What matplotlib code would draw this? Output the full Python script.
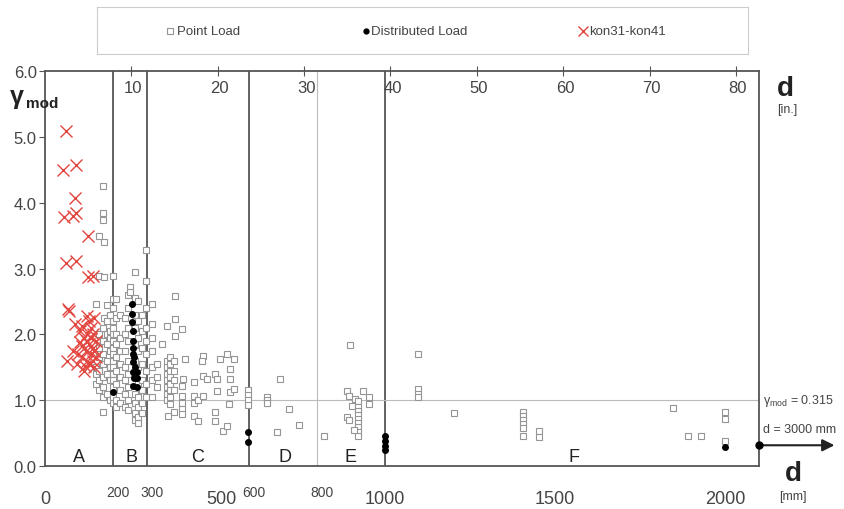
import numpy as np
import matplotlib.pyplot as plt

plt.rcParams['font.family'] = ['Liberation Sans', 'DejaVu Sans']
plt.rcParams['mathtext.fontset'] = 'custom'
plt.rcParams['mathtext.rm'] = 'Liberation Sans'
plt.rcParams['mathtext.it'] = 'Liberation Sans'

# Точечная нагрузка (серые квадраты): d [mm], gamma_mod
point_a_x = [150, 150, 150, 150,
             160, 160, 160, 160, 160, 160, 160, 160,
             171, 171, 171, 171, 171, 171, 171, 171, 171, 171, 171,
             174, 174, 174,
             183, 183, 183, 183, 183, 183, 183,
             190, 190, 190, 190, 190, 190, 190,
             200, 200, 200, 200, 200, 200, 200, 200, 200, 200, 200, 200, 200, 200, 200, 200,
             210, 210, 210, 210, 210, 210, 210, 210, 210,
             220, 220, 220, 220, 220, 220, 220,
             235, 235, 235, 235, 235, 235, 235,
             245, 245, 245, 245, 245, 245, 245, 245, 245,
             250, 250,
             265, 265, 265, 265, 265, 265, 265, 265, 265, 265, 265,
             275, 275, 275, 275, 275, 275, 275, 275, 275, 275,
             285, 285, 285, 285, 285, 285, 285, 285,
             297, 297, 297, 297, 297, 297, 297, 297, 297,
             315, 315, 315, 315, 315, 315, 315,
             330, 330, 330]
point_a_y = [2.46, 1.50, 1.40, 1.25,
             3.50, 2.89, 2.00, 1.80, 1.65, 1.45, 1.30, 1.15,
             4.26, 3.84, 3.73, 2.10, 1.90, 1.70, 1.55, 1.35, 1.20, 1.05, 0.82,
             3.40, 2.87, 2.25,
             2.45, 2.20, 2.00, 1.85, 1.60, 1.40, 1.10,
             2.30, 2.05, 1.95, 1.75, 1.50, 1.30, 1.00,
             2.89, 2.54, 2.40, 2.20, 2.10, 2.00, 1.90, 1.80, 1.70, 1.60, 1.50, 1.40, 1.30, 1.20, 1.05, 0.95,
             2.54, 2.25, 2.00, 1.85, 1.65, 1.45, 1.25, 1.00, 0.90,
             2.30, 1.95, 1.75, 1.55, 1.35, 1.15, 0.95,
             2.25, 2.00, 1.75, 1.50, 1.30, 1.10, 0.90,
             2.60, 2.40, 2.10, 1.90, 1.60, 1.40, 1.20, 1.00, 0.85,
             2.72, 2.64,
             2.95, 2.55, 2.30, 2.10, 1.85, 1.60, 1.35, 1.10, 0.95, 0.80, 0.70,
             2.50, 2.20, 1.95, 1.75, 1.50, 1.25, 1.05, 0.90, 0.75, 0.65,
             2.30, 2.05, 1.80, 1.55, 1.30, 1.15, 0.95, 0.80,
             3.28, 2.81, 2.40, 2.10, 1.90, 1.70, 1.45, 1.25, 1.05,
             2.46, 2.15, 1.95, 1.75, 1.50, 1.30, 1.05,
             1.55, 1.35, 1.20]

point_c_x = [344, 359, 359, 359, 359, 359, 359, 359, 359,
             368, 368, 368, 368, 368, 368, 368, 368,
             378, 378, 378, 378, 378, 383, 383, 383,
             403, 403, 403, 403, 403, 403, 363, 412, 407,
             437, 437, 437, 437, 451, 451, 466, 466, 466, 462, 477,
             500, 500, 500, 506, 506, 516, 525, 535, 535, 540,
             545, 545, 545, 555, 555,
             598, 598, 598, 598]
point_c_y = [1.85, 2.13, 1.60, 1.50, 1.40, 1.30, 1.20, 1.10, 1.00,
             1.65, 1.55, 1.45, 1.35, 1.25, 1.15, 1.05, 0.94,
             1.60, 1.45, 1.30, 1.15, 0.82, 2.58, 2.23, 1.98,
             2.08, 1.22, 1.06, 0.95, 0.87, 0.79, 0.76, 1.63, 1.32,
             1.27, 1.06, 0.95, 0.76, 1.00, 0.68, 1.67, 1.37, 1.06, 1.60, 1.32,
             1.40, 0.82, 0.68, 1.32, 1.14, 1.63, 0.53, 1.70, 0.61, 0.94,
             1.47, 1.32, 1.12, 1.63, 1.17,
             1.15, 1.08, 1.00, 0.93]

point_def_x = [654, 654, 654, 692, 719, 748, 683, 822,
               896, 889, 934, 893, 913, 952, 952, 904,
               920, 920, 920, 920, 920, 920, 920, 920, 920, 889, 893, 910,
               1096, 1096, 1096, 1096, 1202,
               1405, 1405, 1405, 1405, 1405, 1405, 1452, 1452,
               1848, 1891, 1930, 2000, 2000, 2000]
point_def_y = [1.05, 1.00, 0.95, 1.32, 0.87, 0.62, 0.52, 0.46,
               1.84, 1.14, 1.14, 1.06, 1.02, 1.05, 0.94, 0.91,
               0.98, 0.90, 0.84, 0.78, 0.72, 0.66, 0.60, 0.52, 0.45, 0.74, 0.70, 0.55,
               1.70, 1.17, 1.10, 1.05, 0.81,
               0.82, 0.76, 0.70, 0.64, 0.58, 0.45, 0.53, 0.44,
               0.88, 0.46, 0.46, 0.82, 0.71, 0.38]

# Распределенная нагрузка (черные точки)
dist_x = [255, 255, 255, 258, 258, 258, 260, 262, 258, 265, 258, 262, 258,
          272, 272, 272, 200, 598, 598, 1000, 1000, 1000, 1000, 2000]
dist_y = [2.46, 2.31, 2.18, 2.05, 1.90, 1.80, 1.70, 1.66, 1.58, 1.50, 1.43, 1.33, 1.22,
          1.20, 1.43, 1.33, 1.12, 0.52, 0.36, 0.46, 0.38, 0.30, 0.24, 0.29]

# kon31-kon41 (красные крестики)
kon_x = [62, 53, 91, 89, 57, 83, 91, 127, 62, 91, 127, 141,
         68, 70, 88, 109, 124, 103, 124, 65, 83, 109, 118, 103,
         130, 135, 140, 115, 125, 130, 140, 120, 135, 145, 110,
         125, 140, 130, 145, 115, 98, 95, 150, 150, 135, 145]
kon_y = [5.09, 4.50, 4.57, 4.07, 3.78, 3.80, 3.85, 3.50, 3.09, 3.12, 2.87, 2.89,
         2.38, 2.35, 2.16, 2.13, 2.28, 2.05, 2.00, 1.60, 1.75, 1.83, 1.52, 1.88,
         2.20, 2.10, 2.00, 1.95, 1.90, 1.85, 1.80, 1.75, 1.70, 1.75, 1.65,
         1.60, 1.60, 1.55, 1.50, 1.45, 1.70, 1.55, 1.90, 1.65, 1.95, 2.25]

# Границы зон и подписи
zone_bounds = [200, 300, 600, 1000]
zone_names = ['A', 'B', 'C', 'D', 'E', 'F']
zone_pos = [100, 255, 450, 705, 900, 1555]
big_ticks = [0, 500, 1000, 1500, 2000]
small_ticks = [200, 300, 600, 800]
inch_ticks = [10, 20, 30, 40, 50, 60, 70, 80]
gamma_end = 0.315
d_end = 2100

grey = '#555555'
txt = '#444444'

fig = plt.figure(figsize=(8.44, 5.10), dpi=100)
ax = fig.add_axes([0.0533, 0.0843, 0.8460, 0.7745])

ax.set_xlim(0, d_end)
ax.set_ylim(0, 6.0)

for xb in zone_bounds:
    ax.axvline(xb, color=grey, lw=1.3, zorder=1)
ax.axvline(800, color='#bbbbbb', lw=0.8, zorder=1)
ax.axhline(1.0, color='#bbbbbb', lw=0.8, zorder=1)

px = point_a_x + point_c_x + point_def_x
py = point_a_y + point_c_y + point_def_y
ax.plot(px, py, 's', ms=4.5, mfc='white', mec='#959595', mew=0.8, zorder=2)
ax.plot(kon_x, kon_y, 'x', ms=8, color='#e3453f', mew=1.0, zorder=3)
ax.plot(dist_x, dist_y, 'o', ms=4, color='black', zorder=4)

for name, xp in zip(zone_names, zone_pos):
    ax.text(xp, 0.14, name, ha='center', va='center', fontsize=13, color='#222222')

for s in ax.spines.values():
    s.set_color(grey)
    s.set_linewidth(1.3)

ax.set_yticks(np.arange(0, 6.01, 1.0))
ax.set_yticklabels([f'{v:.1f}' for v in np.arange(0, 6.01, 1.0)], fontsize=12, color=txt)
ax.tick_params(axis='y', length=4, color=grey, pad=2)

# нижняя шкала: мм
ax.set_xticks(big_ticks + small_ticks)
ax.set_xticklabels([])
ax.tick_params(axis='x', length=0)
for t in big_ticks:
    ax.text(t + (20 if t == 500 else 0), -0.5, str(t), ha='center', va='center',
            fontsize=13, color=txt, clip_on=False)
for t in small_ticks:
    ax.text(t + 15, -0.4, str(t), ha='center', va='center', fontsize=10,
            color=txt, clip_on=False)

# верхняя шкала: дюймы
secax = ax.secondary_xaxis('top', functions=(lambda x: x / 25.4, lambda x: x * 25.4))
secax.set_xticks(inch_ticks)
secax.set_xticklabels([])
secax.tick_params(direction='inout', length=7, color=grey)
secax.spines['top'].set_visible(False)
for t in inch_ticks:
    ax.text(t * 25.4 + 6, 5.75, str(t), ha='center', va='center', fontsize=12, color=txt)

# стрелка к d = 3000 mm
ax.plot([d_end], [gamma_end], 'o', ms=5, color='black', clip_on=False, zorder=5)
ax.annotate('', xy=(2330, gamma_end), xytext=(d_end, gamma_end),
            arrowprops=dict(arrowstyle='-|>', color='#222222', lw=1.5, mutation_scale=18),
            annotation_clip=False)
ax.text(2112, 1.0, 'γ$_{\\rm mod}$ = 0.315', fontsize=9, color=txt, va='center', clip_on=False)
ax.text(2112, 0.56, 'd = 3000 mm', fontsize=9, color=txt, va='center', clip_on=False)

# подписи осей
fig.text(0.012, 0.81, 'γ', fontsize=18, fontweight='bold', color='#222222', va='center')
fig.text(0.031, 0.797, 'mod', fontsize=11, fontweight='bold', color='#222222', va='center')
fig.text(0.930, 0.825, 'd', fontsize=20, fontweight='bold', color='#222222', ha='center', va='center')
fig.text(0.933, 0.785, '[in.]', fontsize=9, color=txt, ha='center', va='center')
fig.text(0.940, 0.07, 'd', fontsize=20, fontweight='bold', color='#222222', ha='center', va='center')
fig.text(0.940, 0.025, '[mm]', fontsize=9, color=txt, ha='center', va='center')

# легенда в рамке
leg = fig.add_axes([0.115, 0.892, 0.771, 0.092])
leg.set_xlim(97, 748)
leg.set_ylim(0, 1)
leg.set_xticks([])
leg.set_yticks([])
for s in leg.spines.values():
    s.set_color('#cccccc')
    s.set_linewidth(0.8)
leg.plot([170], [0.5], 's', ms=4, mfc='white', mec='#959595', mew=0.8)
leg.text(177, 0.5, 'Point Load', fontsize=9.5, color=txt, va='center')
leg.plot([366], [0.5], 'o', ms=3.5, color='black')
leg.text(371, 0.5, 'Distributed Load', fontsize=9.5, color=txt, va='center')
leg.plot([583], [0.5], 'x', ms=7, color='#e3453f', mew=1.0)
leg.text(589, 0.5, 'kon31-kon41', fontsize=9.5, color=txt, va='center')

fig.savefig('out.png', dpi=100)
